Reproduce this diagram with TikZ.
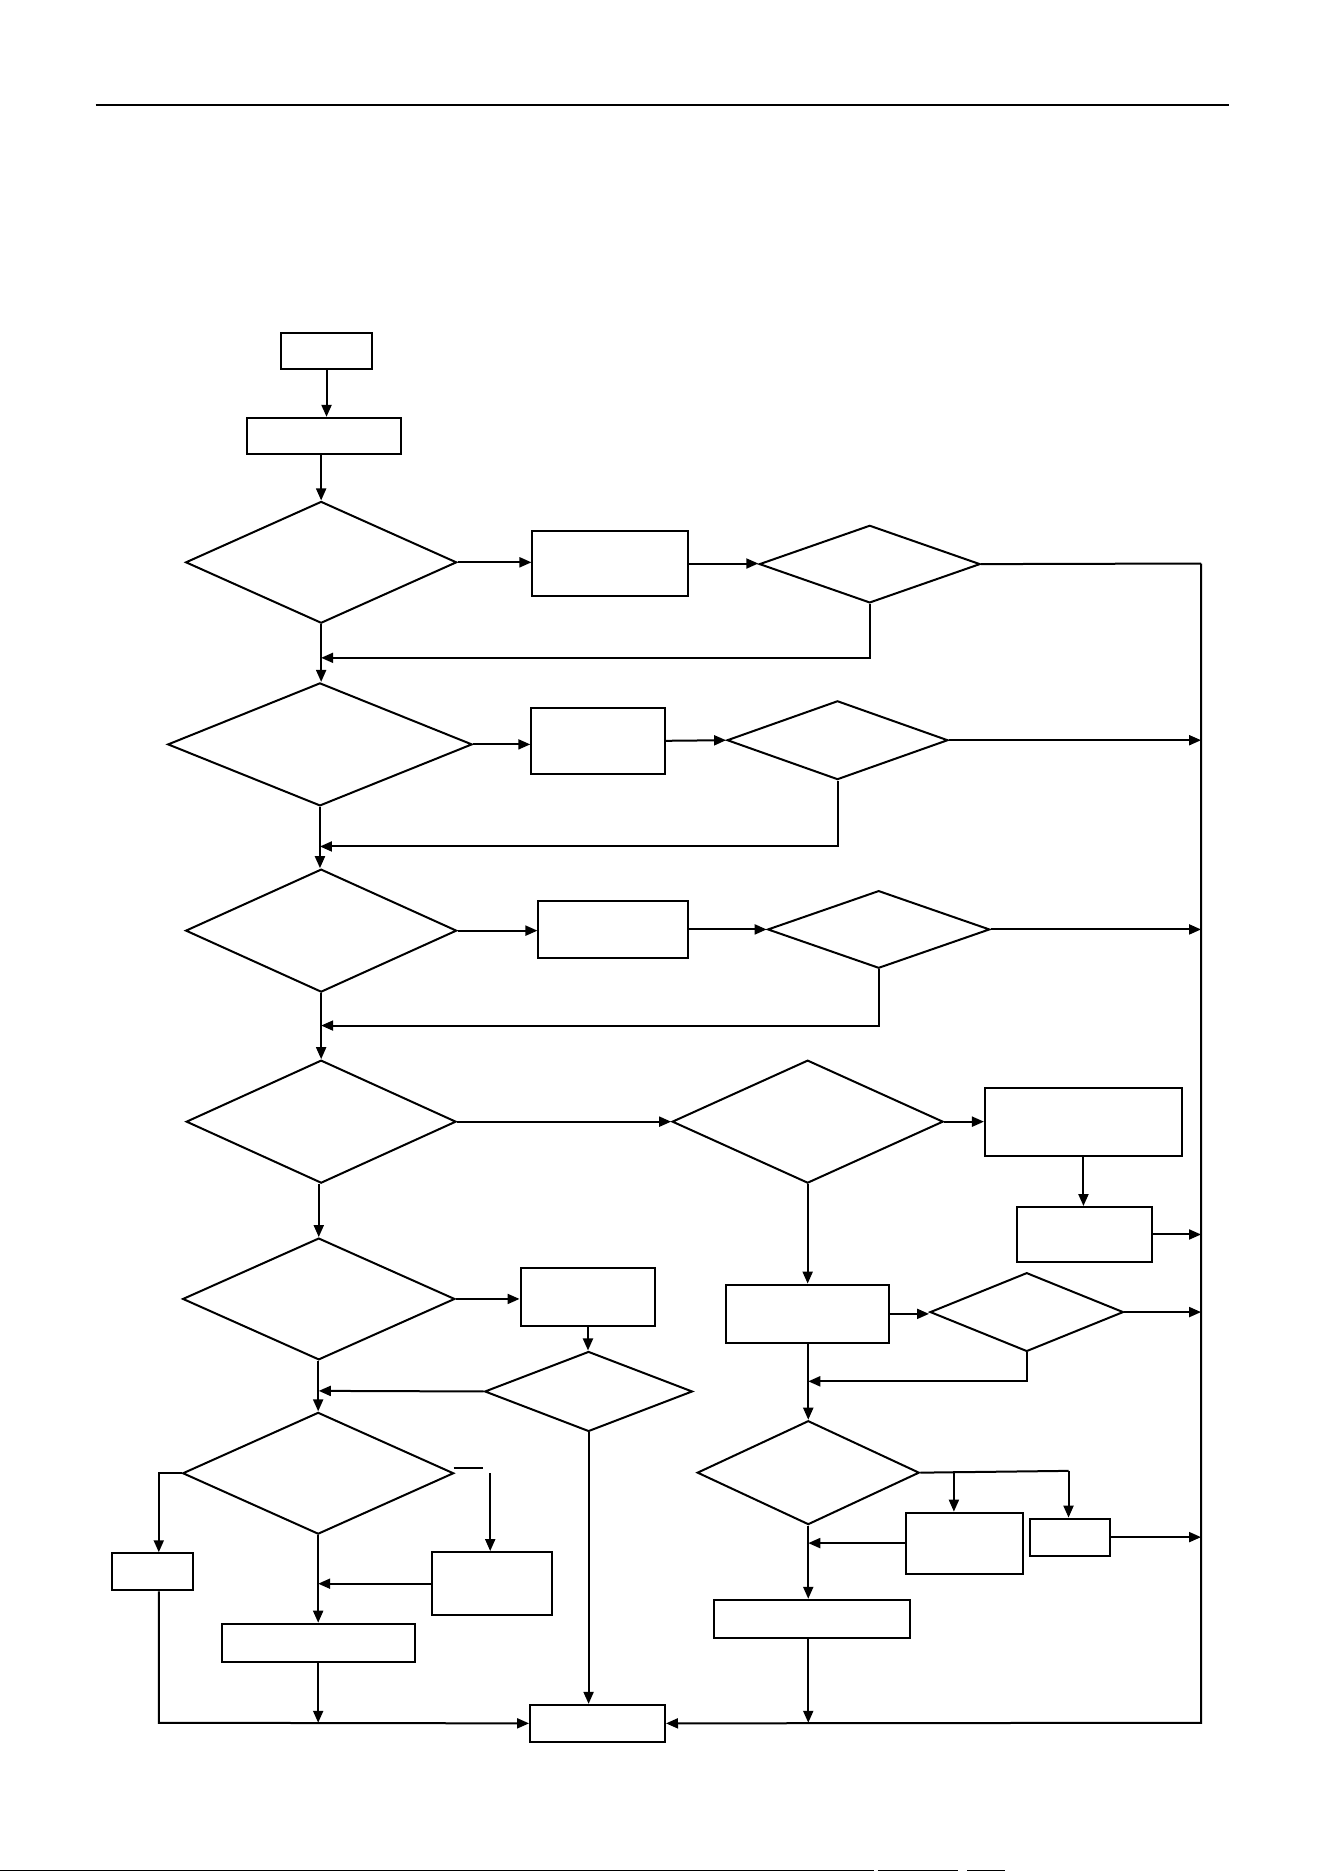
\documentclass[tikz,border=0pt]{standalone}
\usetikzlibrary{shapes.geometric,arrows.meta}
\def\s{1.1939}
\begin{document}
\begin{tikzpicture}[x=1.1939pt,y=-1.1939pt,line width=2pt,
  box/.style={draw,rectangle,inner sep=0pt,line width=2pt},
  dia/.style={draw,diamond,inner sep=0pt,line width=2pt},
  arr/.style={-{Triangle[length=12pt,width=10pt]}}]
\useasboundingbox (0,0) rectangle (1109,1568);
\fill[white] (0,0) rectangle (1109,1568);
% page rules
\draw[line width=2pt] (80,88) -- (1029,88);
\draw[line width=1.2pt] (0,1567) -- (732,1567);
\draw[line width=1.2pt] (735,1567) -- (802,1567);
\draw[line width=1.2pt] (810,1567) -- (842,1567);
% nodes
\node[box,minimum width=\s*77pt,minimum height=\s*30pt] (S) at (273.5,294) {};
\node[box,minimum width=\s*129pt,minimum height=\s*30pt] (B1) at (271.5,365) {};
\node[dia,minimum width=\s*227pt,minimum height=\s*102pt] (D1) at (269,471) {};
\node[box,minimum width=\s*130pt,minimum height=\s*54pt] (R1) at (511,472) {};
\node[dia,minimum width=\s*185pt,minimum height=\s*65pt] (E1) at (728.5,472.5) {};
\node[dia,minimum width=\s*255pt,minimum height=\s*103pt] (D2) at (268,623.5) {};
\node[box,minimum width=\s*112pt,minimum height=\s*55pt] (R2) at (501,620.5) {};
\node[dia,minimum width=\s*185pt,minimum height=\s*66pt] (E2) at (701.5,620) {};
\node[dia,minimum width=\s*227pt,minimum height=\s*103pt] (D3) at (269,779.5) {};
\node[box,minimum width=\s*125pt,minimum height=\s*47pt] (R3) at (513.5,778.5) {};
\node[dia,minimum width=\s*186pt,minimum height=\s*65pt] (E3) at (736,778.5) {};
\node[dia,minimum width=\s*226pt,minimum height=\s*103pt] (D4) at (269,939.5) {};
\node[dia,minimum width=\s*227pt,minimum height=\s*103pt] (D5) at (676.5,939.5) {};
\node[box,minimum width=\s*165pt,minimum height=\s*57pt] (R5) at (907.5,939.5) {};
\node[box,minimum width=\s*113pt,minimum height=\s*46pt] (R6) at (908.5,1034) {};
\node[box,minimum width=\s*137pt,minimum height=\s*49pt] (R7) at (676.5,1100.5) {};
\node[dia,minimum width=\s*162pt,minimum height=\s*66pt] (E7) at (860,1099) {};
\node[dia,minimum width=\s*186pt,minimum height=\s*87pt] (D8) at (677,1233.5) {};
\node[box,minimum width=\s*98pt,minimum height=\s*51pt] (R8a) at (808,1292.5) {};
\node[box,minimum width=\s*67pt,minimum height=\s*31pt] (R8b) at (896.5,1287.5) {};
\node[box,minimum width=\s*164pt,minimum height=\s*32pt] (R9) at (680,1356) {};
\node[box,minimum width=\s*113pt,minimum height=\s*31pt] (End) at (500.5,1443.5) {};
\node[dia,minimum width=\s*228pt,minimum height=\s*102pt] (D6) at (267,1088) {};
\node[box,minimum width=\s*113pt,minimum height=\s*49pt] (R10) at (492.5,1086.5) {};
\node[dia,minimum width=\s*174pt,minimum height=\s*67pt] (E10) at (493,1165.5) {};
\node[dia,minimum width=\s*227pt,minimum height=\s*102pt] (D9) at (266.5,1234) {};
\node[box,minimum width=\s*100pt,minimum height=\s*53pt] (R11) at (412,1326.5) {};
\node[box,minimum width=\s*68pt,minimum height=\s*31pt] (R12) at (128,1316.5) {};
\node[box,minimum width=\s*162pt,minimum height=\s*32pt] (R13) at (267,1376) {};
% helper coordinates
\coordinate (rt) at (1006,472);
\coordinate (rb) at (1006,1443);
\coordinate (j1) at (269,551);
\coordinate (j2) at (268,709);
\coordinate (j3) at (269,859);
\coordinate (j7) at (677,1157);
\coordinate (b8a) at (799,1232);
\coordinate (b8b) at (895,1232);
\coordinate (j10) at (267,1165);
\coordinate (s9a) at (380,1229.5);
\coordinate (s9b) at (404.5,1229.5);
\coordinate (v9) at (410.6,1234);
\coordinate (l9) at (133,1234);
\coordinate (l12) at (133,1443);
% top chain
\draw[arr] (S.south) -- (S.south |- B1.north);
\draw[arr] (D1.north |- B1.south) -- (D1.north);
\draw[arr] (D1.east) -- (D1.east -| R1.west);
\draw[arr] (R1.east) -- (R1.east -| E1.west);
\draw (E1.east) -- (rt);
\draw[arr] (E1.south) |- (j1);
\draw[arr] (D1.south) -- (D1.south |- D2.north);
\draw[arr] (D2.east) -- (D2.east -| R2.west);
\draw[arr] (R2.east) -- (E2.west);
\draw[arr] (E2.east) -- (E2.east -| rt);
\draw[arr] (E2.south) |- (j2);
\draw[arr] (D2.south) -- (D2.south |- D3.north);
\draw[arr] (D3.east) -- (D3.east -| R3.west);
\draw[arr] (R3.east) -- (E3.west);
\draw[arr] (E3.east) -- (E3.east -| rt);
\draw[arr] (E3.south) |- (j3);
\draw[arr] (D3.south) -- (D4.north);
% right branch
\draw[arr] (D4.east) -- (D5.west);
\draw[arr] (D5.east) -- (D5.east -| R5.west);
\draw[arr] (R5.south) -- (R5.south |- R6.north);
\draw[arr] (R6.east) -- (R6.east -| rt);
\draw[arr] (D5.south) -- (D5.south |- R7.north);
\draw[arr] (R7.east) -- (R7.east -| E7.west);
\draw[arr] (E7.east) -- (E7.east -| rt);
\draw[arr] (E7.south) |- (j7);
\draw[arr] (R7.south -| D8.north) -- (D8.north);
\draw (D8.east) -- (b8b);
\draw[arr] (b8a) -- (b8a |- R8a.north);
\draw[arr] (b8b) -- (b8b |- R8b.north);
\draw[arr] (R8a.west) -- (R8a.west -| D8.south);
\draw[arr] (R8b.east) -- (R8b.east -| rt);
\draw[arr] (D8.south) -- (D8.south |- R9.north);
\draw[arr] (D8.south |- R9.south) -- (D8.south |- rb);
\draw[arr] (rt) -- (rb) -- (End.east);
% left branch
\draw[arr] (D4.south -| D6.north) -- (D6.north);
\draw[arr] (D6.east) -- (D6.east -| R10.west);
\draw[arr] (R10.south) -- (R10.south |- E10.north);
\draw[arr] (E10.west) -- (j10);
\draw[arr] (E10.south) -- (E10.south |- End.north);
\draw[arr] (D6.south -| D9.north) -- (D9.north);
\draw (s9a) -- (s9b);
\draw[arr] (v9) -- (v9 |- R11.north);
\draw[arr] (R11.west) -- (R11.west -| D9.south);
\draw[arr] (D9.west) -- (l9) -- (l9 |- R12.north);
\draw[arr] (l9 |- R12.south) -- (l12) -- (End.west);
\draw[arr] (D9.south) -- (D9.south |- R13.north);
\draw[arr] (D9.south |- R13.south) -- (D9.south |- l12);
\end{tikzpicture}
\end{document}
